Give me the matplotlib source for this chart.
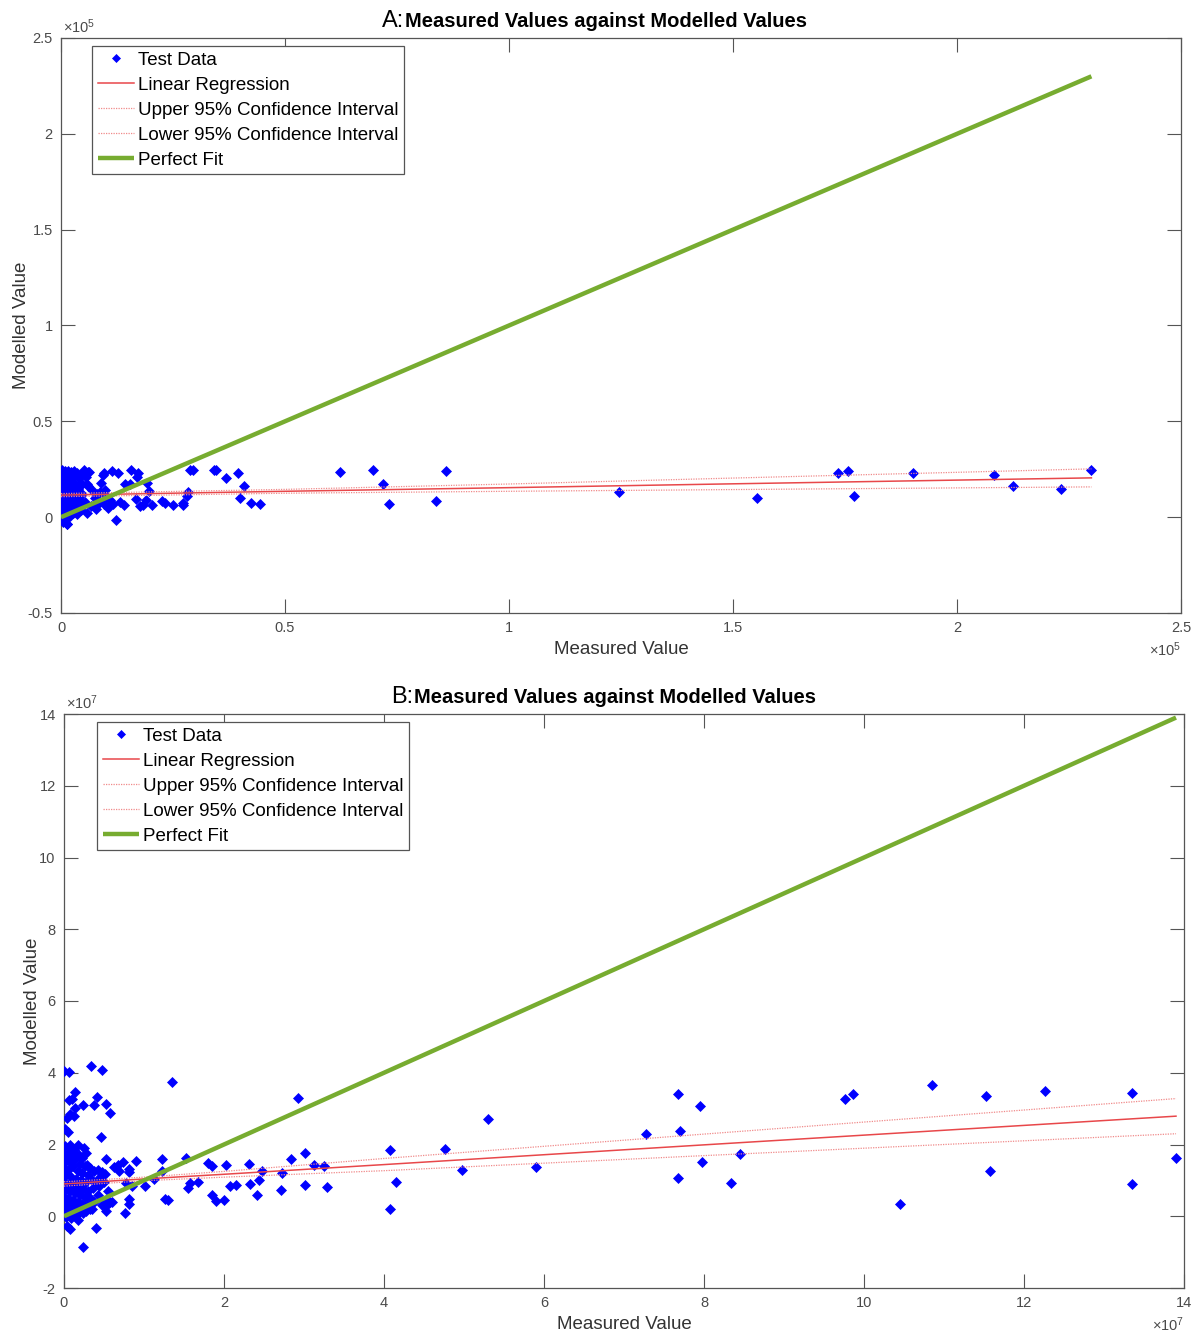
import matplotlib
matplotlib.use("Agg")
import matplotlib.pyplot as plt
from matplotlib.ticker import FuncFormatter, MultipleLocator

plt.rcParams['font.family'] = ['Liberation Sans', 'DejaVu Sans']
plt.rcParams['mathtext.fontset'] = 'custom'
plt.rcParams['mathtext.rm'] = 'Liberation Sans'
plt.rcParams['mathtext.it'] = 'Liberation Sans'

# ---------------- Panel A (values in units of 1e5) ----------------
a_meas = [
    2.299, 2.232, 2.125, 2.083, 1.902, 1.770, 1.757, 1.734, 1.554, 1.246,
    0.860, 0.837, 0.733, 0.718, 0.696, 0.623,
    0.444, 0.425, 0.399, 0.409, 0.394, 0.369, 0.341, 0.346, 0.287, 0.294,
    0.283, 0.281, 0.273, 0.273, 0.251, 0.233, 0.225, 0.203, 0.197, 0.192,
    0.189, 0.184, 0.177, 0.168, 0.169, 0.171, 0.156, 0.154, 0.143, 0.140,
    0.132, 0.128, 0.122, 0.114, 0.117, 0.095, 0.095, 0.093, 0.098, 0.087,
    0.080, 0.060, 0.051, 0.054, 0.059, 0.046, 0.054, 0.035, 0.013, 0.009,
    0.002, 0.008, 0.015, 0.022, 0.030, 0.004, 0.012, 0.020, 0.027, 0.036,
    0.001, 0.009, 0.018, 0.026, 0.040, 0.003, 0.013, 0.021, 0.032, 0.044,
    0.002, 0.010, 0.019, 0.028, 0.037, 0.005, 0.014, 0.024, 0.033, 0.046,
    0.001, 0.011, 0.020, 0.029, 0.041, 0.004, 0.016, 0.025, 0.035, 0.048,
    0.002, 0.012, 0.022, 0.031, 0.006, 0.017, 0.027, 0.001, 0.010, 0.005,
    0.013, 0.020,
    0.050, 0.055, 0.063, 0.070, 0.075, 0.068, 0.080, 0.085, 0.090, 0.060,
    0.100, 0.105, 0.110, 0.058, 0.045, 0.078,
]
a_model = [
    0.245, 0.146, 0.162, 0.219, 0.230, 0.110, 0.240, 0.230, 0.099, 0.130,
    0.240, 0.084, 0.070, 0.174, 0.244, 0.235,
    0.070, 0.073, 0.099, 0.162, 0.232, 0.206, 0.246, 0.244, 0.247, 0.244,
    0.131, 0.108, 0.061, 0.073, 0.066, 0.073, 0.084, 0.064, 0.136, 0.179,
    0.091, 0.061, 0.056, 0.096, 0.209, 0.230, 0.244, 0.174, 0.174, 0.061,
    0.078, 0.230, -0.014, 0.240, 0.070, 0.070, 0.230, 0.218, 0.143, 0.131,
    0.061, 0.235, 0.244, 0.218, 0.174, 0.174, 0.078, 0.017, -0.038, -0.017,
    0.245, 0.240, 0.243, 0.238, 0.240, 0.222, 0.215, 0.225, 0.210, 0.228,
    0.198, 0.190, 0.200, 0.185, 0.205, 0.172, 0.165, 0.178, 0.160, 0.175,
    0.148, 0.140, 0.152, 0.135, 0.145, 0.122, 0.115, 0.128, 0.110, 0.120,
    0.098, 0.090, 0.100, 0.085, 0.095, 0.070, 0.062, 0.075, 0.058, 0.065,
    0.045, 0.038, 0.048, 0.030, 0.018, 0.010, 0.022, 0.000, -0.010, -0.025,
    -0.038, 0.005,
    0.230, 0.210, 0.235, 0.140, 0.100, 0.060, 0.120, 0.085, 0.180, 0.160,
    0.110, 0.050, 0.090, 0.020, 0.035, 0.040,
]
a_fit_x = [0.0, 0.5, 1.0, 1.5, 2.3]
a_fit_y = [0.115, 0.135, 0.154, 0.174, 0.205]
a_upper = [0.123, 0.145, 0.173, 0.204, 0.252]
a_lower = [0.107, 0.125, 0.135, 0.144, 0.158]
a_perfect = [0.0, 2.3]

# ---------------- Panel B (values in units of 1e7) ----------------
b_meas = [
    0.00, 0.06, 0.34, 0.48, 1.35, 2.93, 0.14, 0.06, 0.10, 0.04,
    0.08, 0.125, 0.14, 0.24, 0.37, 0.41, 0.52, 0.58, 0.46, 0.01,
    0.05, 0.075, 0.17, 0.25, 0.19, 0.53, 0.74, 0.90, 0.625, 0.67,
    0.69, 0.81, 0.81, 0.51, 0.78, 0.85, 1.01, 1.12, 1.22, 1.23,
    1.53, 1.55, 1.58, 1.68, 1.80, 1.85, 2.03, 1.85, 1.90, 2.00,
    2.08, 2.15, 2.31, 2.32, 2.41, 2.44, 2.48, 2.71, 2.73, 2.84,
    3.01, 3.01, 3.12, 3.25, 3.29, 1.26, 1.30, 0.76, 0.81, 0.81,
    0.52, 0.52, 0.54, 0.58, 0.40, 0.24, 0.04, 0.08, 0.35,
    4.08, 4.15, 4.08, 4.76, 4.98, 5.30, 5.90, 7.28, 7.67, 7.70,
    7.68, 7.95, 7.97, 8.34, 8.45, 9.76, 9.86, 10.45, 10.85, 11.52,
    11.57, 12.26, 13.35, 13.35, 13.90,
    0.00, 0.05, 0.10, 0.15, 0.02, 0.08, 0.13, 0.20, 0.26, 0.32,
    0.00, 0.05, 0.11, 0.17, 0.23, 0.30, 0.37, 0.03, 0.09, 0.15,
    0.21, 0.27, 0.34, 0.40, 0.00, 0.06, 0.12, 0.18, 0.24, 0.30,
    0.36, 0.02, 0.08, 0.14, 0.20, 0.26, 0.32, 0.00, 0.05, 0.11,
    0.17, 0.23, 0.29, 0.03, 0.09, 0.15, 0.21, 0.27, 0.00, 0.06,
    0.12, 0.18, 0.03, 0.09, 0.15, 0.24, 0.33, 0.38, 0.42, 0.45,
    0.44, 0.13, 0.22, 0.28, 0.07, 0.18, 0.01, 0.10,
    0.29, 0.42, 0.48, 0.50, 0.55, 0.60, 0.47,
]
b_model = [
    4.05, 4.03, 4.19, 4.07, 3.74, 3.30, 3.47, 3.23, 3.26, 2.74,
    2.84, 2.79, 3.02, 3.09, 3.09, 3.33, 3.13, 2.87, 2.20, 2.42,
    2.35, 2.00, 1.98, 1.89, 1.72, 1.60, 1.52, 1.53, 1.37, 1.42,
    1.26, 1.32, 1.23, 1.19, 0.93, 0.84, 0.84, 1.04, 1.26, 1.60,
    1.63, 0.79, 0.93, 0.96, 1.49, 1.41, 1.44, 0.60, 0.42, 0.45,
    0.84, 0.86, 1.47, 0.90, 0.60, 1.00, 1.27, 0.74, 1.21, 1.60,
    1.75, 0.87, 1.44, 1.40, 0.81, 0.47, 0.45, 0.09, 0.47, 0.35,
    0.14, 0.28, 0.42, 0.40, -0.33, -0.86, -0.28, -0.35, 0.19,
    1.84, 0.96, 0.21, 1.88, 1.30, 2.72, 1.37, 2.28, 3.42, 2.39,
    1.07, 3.06, 1.50, 0.94, 1.74, 3.27, 3.42, 0.33, 3.67, 3.36,
    1.25, 3.49, 3.44, 0.90, 1.63,
    1.70, 1.75, 1.65, 1.72, 1.55, 1.50, 1.58, 1.45, 1.40, 1.35,
    1.35, 1.30, 1.40, 1.25, 1.20, 1.15, 1.25, 1.15, 1.10, 1.05,
    1.00, 0.95, 1.05, 0.95, 0.95, 0.90, 0.85, 0.80, 0.75, 0.70,
    0.80, 0.75, 0.70, 0.65, 0.60, 0.55, 0.50, 0.55, 0.50, 0.45,
    0.40, 0.35, 0.30, 0.35, 0.30, 0.25, 0.20, 0.15, 0.15, 0.10,
    0.05, 0.12, -0.02, -0.05, 0.00, 0.08, 0.20, 0.40, 0.60, 1.10,
    0.85, 1.85, 1.62, 1.75, 0.20, -0.10, 1.95, 1.90,
    1.42, 1.30, 1.22, 0.95, 0.70, 0.40, 0.30,
]
b_fit_x = [0.0, 1.0, 2.0, 4.0, 8.0, 13.9]
b_fit_y = [0.90, 1.04, 1.17, 1.44, 1.99, 2.79]
b_upper = [0.96, 1.09, 1.25, 1.61, 2.29, 3.28]
b_lower = [0.84, 0.99, 1.09, 1.27, 1.69, 2.30]
b_perfect = [0.0, 13.9]

legend_labels = ["Test Data", "Linear Regression", "Upper 95% Confidence Interval",
                 "Lower 95% Confidence Interval", "Perfect Fit"]

BLUE = "#0000ff"
RED = "#e8474a"
PINK = "#f08a8a"
GREEN = "#77ac30"
AXGRAY = "#555555"
TXTGRAY = "#4a4a4a"

fig = plt.figure(figsize=(11.99, 13.32), dpi=100)
axA = fig.add_axes([61 / 1199, 1 - 613 / 1332, 1120 / 1199, 575 / 1332])
axB = fig.add_axes([64 / 1199, 1 - 1288 / 1332, 1120 / 1199, 574 / 1332])


def fmt(v, pos):
    return f"{v:g}"


def draw_panel(ax, meas, model, fx, fy, up, lo, perfect, xlim, ylim, xstep, ystep,
               exp, letter, title_x, legend_anchor, ylabel_pad):
    ax.plot(meas, model, linestyle="none", marker="D", ms=5.6, color=BLUE,
            mec=BLUE, mew=0.5, label=legend_labels[0], zorder=3)
    ax.plot(fx, fy, color=RED, lw=1.1, label=legend_labels[1], zorder=4)
    ax.plot(fx, up, color=PINK, lw=0.9, ls=(0, (1, 1)), label=legend_labels[2], zorder=4)
    ax.plot(fx, lo, color=PINK, lw=0.9, ls=(0, (1, 1)), label=legend_labels[3], zorder=4)
    ax.plot(perfect, perfect, color=GREEN, lw=3.2, label=legend_labels[4], zorder=5,
            solid_capstyle="butt")

    ax.set_xlim(*xlim)
    ax.set_ylim(*ylim)
    ax.xaxis.set_major_locator(MultipleLocator(xstep))
    ax.yaxis.set_major_locator(MultipleLocator(ystep))
    ax.xaxis.set_major_formatter(FuncFormatter(fmt))
    ax.yaxis.set_major_formatter(FuncFormatter(fmt))
    ax.tick_params(direction="in", length=10, width=0.8, colors=AXGRAY,
                   labelcolor=TXTGRAY, labelsize=10.5, top=True, right=True, pad=6)
    for s in ax.spines.values():
        s.set_color(AXGRAY)
        s.set_linewidth(0.9)

    ax.set_xlabel("Measured Value", fontsize=13.5, color="#333333", labelpad=4)
    ax.set_ylabel("Modelled Value", fontsize=13.5, color="#333333", labelpad=ylabel_pad)

    ax.text(0.002, 1.003, r"$\times10^{%d}$" % exp, transform=ax.transAxes,
            fontsize=10.5, color=TXTGRAY, ha="left", va="bottom")
    ax.annotate(r"$\times10^{%d}$" % exp, xy=(1, 0), xycoords="axes fraction",
                xytext=(0, -37), textcoords="offset pixels", fontsize=10.5,
                color=TXTGRAY, ha="right", va="center")

    ax.text(title_x, 1.029, letter + ":", transform=ax.transAxes, fontsize=17,
            ha="right", va="center", color="black")
    ax.text(title_x + 0.001, 1.029, "Measured Values against Modelled Values",
            transform=ax.transAxes, fontsize=14.5, fontweight="bold", ha="left",
            va="center", color="black")

    leg = ax.legend(loc="upper left", bbox_to_anchor=legend_anchor, borderaxespad=0,
                    fontsize=13.5, frameon=True, fancybox=False, framealpha=1,
                    edgecolor="#555555", handlelength=1.95, handletextpad=0.2,
                    labelspacing=0.42, borderpad=0.3, markerscale=0.75)
    leg.get_frame().set_linewidth(0.9)


draw_panel(axA, a_meas, a_model, a_fit_x, a_fit_y, a_upper, a_lower, a_perfect,
           (0, 2.5), (-0.5, 2.5), 0.5, 0.5, 5, "A", 0.306, (31 / 1120, 1 - 8 / 575), -2)
draw_panel(axB, b_meas, b_model, b_fit_x, b_fit_y, b_upper, b_lower, b_perfect,
           (0, 14), (-2, 14), 2, 2, 7, "B", 0.3116, (33 / 1120, 1 - 8 / 574), -1)

fig.savefig("out.png", dpi=100)
